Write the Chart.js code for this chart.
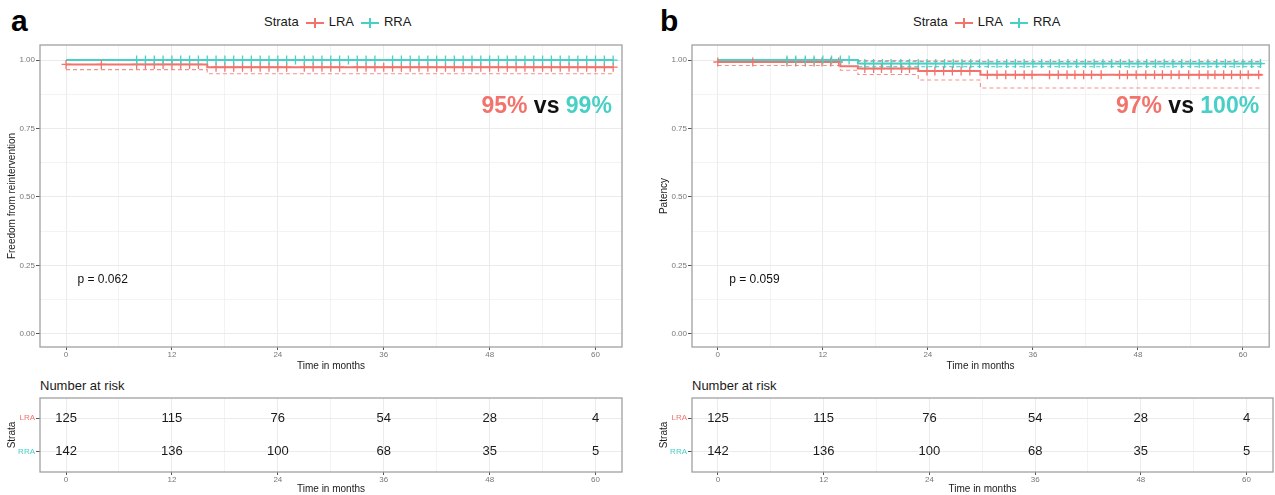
<!DOCTYPE html>
<html>
<head>
<meta charset="utf-8">
<script src="https://cdn.jsdelivr.net/npm/chart.js@4.4.0/dist/chart.umd.min.js"></script>
<style>
  body { margin: 0; background: #fff; font-family: "Liberation Sans", Arial, sans-serif; }
  #wrap { position: relative; width: 1275px; height: 495px; overflow: hidden; }
  .box { position: absolute; }
  .tag { position: absolute; font-weight: bold; font-size: 30px; line-height: 30px; color: #000; }
  .legend { position: absolute; font-size: 13px; line-height: 16px; color: #1a1a1a; white-space: nowrap; }
  .sym { display: inline-block; width: 18px; height: 2px; position: relative; vertical-align: middle; margin: 0 5px 0 7px; }
  .sym::after { content: ''; position: absolute; left: 8px; top: -4px; width: 2px; height: 10px; background: inherit; }
  .risk-title { position: absolute; font-size: 13px; line-height: 16px; color: #1a1a1a; }
</style>
</head>
<body>
<div id="wrap">
  <div class="tag" style="left:11px;top:6px">a</div>
  <div class="tag" style="left:660px;top:6px">b</div>
  <div class="legend" style="left:264px;top:14px">Strata<span class="sym lra"></span>LRA<span class="sym rra"></span>RRA</div>
  <div class="legend" style="left:913px;top:14px">Strata<span class="sym lra"></span>LRA<span class="sym rra"></span>RRA</div>
  <div class="risk-title" style="left:40px;top:378px">Number at risk</div>
  <div class="risk-title" style="left:692px;top:378px">Number at risk</div>

  <div class="box" style="left:0;top:0"><canvas id="kmA" width="640" height="372"></canvas></div>
  <div class="box" style="left:0;top:372px"><canvas id="riskA" width="640" height="123"></canvas></div>
  <div class="box" style="left:652px;top:0"><canvas id="kmB" width="623" height="372"></canvas></div>
  <div class="box" style="left:652px;top:372px"><canvas id="riskB" width="623" height="123"></canvas></div>
</div>

<script>
// axis ticks
const monthTicks = [0, 12, 24, 36, 48, 60]
const monthMinor = [6, 18, 30, 42, 54]
const survTicks = [0, 0.25, 0.5, 0.75, 1]
const survMinor = [0.125, 0.375, 0.625, 0.875]
const strata = ['LRA', 'RRA']

const red = '#f2736b'
const teal = '#48cfc6'

// panel a - freedom from reintervention
const aLraTime = [0, 16, 62]
const aLraSurv = [0.984, 0.974, 0.974]
const aLraLow = [0.965, 0.950, 0.950]
const aLraUp = [1, 1, 1]
const aRraTime = [0, 62]
const aRraSurv = [1, 1]
const aLraCens = [0, 4, 8, 9, 10, 11, 12, 13, 14, 15, 17, 18, 19, 20, 21, 22, 23, 24, 25, 27, 28, 29, 30, 31,
  33, 34, 35, 36, 37, 38, 39, 40, 41, 42, 43, 44, 45, 46, 47, 48, 49, 50, 51, 52, 53, 54, 55, 56, 57, 58, 59, 60, 61, 62]
const aRraCens = [8, 9, 10, 11, 12, 13, 14, 15, 16, 17, 18, 19, 20, 21, 22, 23, 24, 25, 26, 27, 28, 29, 30, 31, 32,
  33, 34, 35, 37, 38, 39, 40, 41, 42, 43, 44, 45, 46, 47, 48, 49, 50, 51, 52, 53, 54, 55, 56, 57, 58, 59, 60, 61, 62]
const aRiskLRA = [125, 115, 76, 54, 28, 4]
const aRiskRRA = [142, 136, 100, 68, 35, 5]

// panel b - patency
const bLraTime = [0, 14, 16, 22.9, 30, 62.2]
const bLraSurv = [0.993, 0.977, 0.969, 0.960, 0.946, 0.946]
const bLraLow = [0.980, 0.963, 0.947, 0.927, 0.898, 0.898]
const bLraUp = [1, 1, 0.998, 0.996, 0.994, 0.994]
const bRraTime = [0, 16, 62.2]
const bRraSurv = [1, 0.987, 0.987]
const bRraLow = [1, 0.976, 0.976]
const bRraUp = [1, 0.995, 0.995]
const bLraCens = [0, 4, 7.9, 8.9, 10, 11, 11.9, 12.9, 13.8, 16.8, 17.8, 18.7, 19.8, 21, 21.9, 23.9, 24.8, 25.8,
  26.8, 27.8, 28.8, 30.8, 31.9, 32.9, 34, 35, 35.9, 37.9, 38.9, 39.9, 40.8, 41.8, 42.7, 43.8, 45.9, 46.8, 47.8,
  48.9, 49.9, 50.8, 51.8, 52.7, 53.8, 55, 56, 56.8, 57.8, 58.7, 59.7, 60.6, 61.8]
const bRraCens = [7.9, 8.9, 10, 11, 12, 13, 14, 15, 16.8, 17.8, 18.8, 19.8, 20.9, 21.9, 22.9, 23.9, 24.9, 25.9,
  26.9, 27.9, 28.9, 29.9, 30.9, 31.9, 33, 34, 35, 36, 37, 38, 39, 40, 41, 42, 43, 44, 45, 46, 47, 48, 49, 50,
  51, 52, 53, 54, 55, 56, 57, 58, 59, 60, 61, 62]
const bRiskLRA = [125, 115, 76, 54, 28, 4]
const bRiskRRA = [142, 136, 100, 68, 35, 5]
const riskTimes = [0, 12, 24, 36, 48, 60]

Chart.defaults.font.family = '"Liberation Sans", Arial, sans-serif'
Chart.defaults.color = '#1a1a1a'

document.querySelectorAll('.sym.lra').forEach(s => s.style.background = red)
document.querySelectorAll('.sym.rra').forEach(s => s.style.background = teal)

function steps(times, vals) {
  return times.map((t, i) => ({x: t, y: vals[i]}))
}

function survAt(times, vals, t) {
  let v = vals[0]
  for (let i = 0; i < times.length; i++) {
    if (times[i] <= t) v = vals[i]
  }
  return v
}

function marks(cens, times, vals) {
  return cens.map(t => ({x: t, y: survAt(times, vals, t)}))
}

const isIn = (arr, v) => arr.some(m => Math.abs(m - v) < 1e-9)

function monthAxis(height) {
  return {
    type: 'linear',
    min: -2.95,
    max: 63,
    afterBuildTicks: ax => { ax.ticks = monthTicks.concat(monthMinor).sort((p, q) => p - q).map(v => ({value: v})) },
    afterFit: ax => { ax.height = height },
    ticks: {
      autoSkip: false, maxRotation: 0, padding: 0, color: '#777', font: {size: 8},
      callback: v => isIn(monthTicks, v) ? String(v) : ''
    },
    grid: {
      color: '#ebebeb',
      lineWidth: c => isIn(monthTicks, c.tick.value) ? 1 : 0.6,
      tickLength: 3,
      tickColor: c => isIn(monthTicks, c.tick.value) ? '#555' : 'rgba(0,0,0,0)'
    },
    border: {display: false},
    title: {display: true, text: 'Time in months', font: {size: 10}, padding: 0}
  }
}

const framePlugin = {
  id: 'frame',
  afterDatasetsDraw(chart) {
    const a = chart.chartArea
    const ctx = chart.ctx
    ctx.save()
    ctx.strokeStyle = '#a0a0a0'
    ctx.lineWidth = 1.3
    ctx.strokeRect(a.left, a.top, a.right - a.left, a.bottom - a.top)
    ctx.restore()
  }
}

function notesPlugin(pText, parts) {
  return {
    id: 'notes',
    afterDatasetsDraw(chart) {
      const ctx = chart.ctx
      const xs = chart.scales.x, ys = chart.scales.y
      ctx.save()
      ctx.textBaseline = 'middle'
      ctx.font = '12px "Liberation Sans", Arial, sans-serif'
      ctx.fillStyle = '#111'
      ctx.textAlign = 'left'
      ctx.fillText(pText, xs.getPixelForValue(1.3), ys.getPixelForValue(0.197))

      // big percentages, right aligned
      ctx.font = 'bold 23px "Liberation Sans", Arial, sans-serif'
      let total = parts.reduce((s, p) => s + ctx.measureText(p[0]).width, 0)
      let x = xs.getPixelForValue(61.85) - total
      const y = ys.getPixelForValue(0.828)
      parts.forEach(p => {
        ctx.fillStyle = p[1]
        ctx.fillText(p[0], x, y)
        x += ctx.measureText(p[0]).width
      })
      ctx.restore()
    }
  }
}

function make_km(canvas, d, yTitle, padRight, pText, parts) {
  const line = (data, color, order) => ({
    data: data, borderColor: color, borderWidth: 2, stepped: true, pointRadius: 0, fill: false, order: order
  })
  const ci = (data, color) => ({
    data: data, borderColor: color, borderWidth: 1.1, borderDash: [4, 3], stepped: true, pointRadius: 0, fill: false, order: 5
  })
  const cens = (data, color) => ({
    data: data, showLine: false, pointStyle: 'cross', pointRadius: 4.5, pointBorderWidth: 1.3,
    pointBorderColor: color, pointBackgroundColor: color, order: 0
  })

  const datasets = [
    cens(marks(d.rraCens, d.rraTime, d.rraSurv), teal),
    cens(marks(d.lraCens, d.lraTime, d.lraSurv), red),
    line(steps(d.rraTime, d.rraSurv), teal, 1),
    line(steps(d.lraTime, d.lraSurv), red, 2),
    ci(steps(d.lraTime, d.lraLow), 'rgba(242,115,107,0.8)'),
    ci(steps(d.lraTime, d.lraUp), 'rgba(242,115,107,0.8)')
  ]
  if (d.rraLow) {
    datasets.push(ci(steps(d.rraTime, d.rraLow), 'rgba(72,207,198,0.85)'))
    datasets.push(ci(steps(d.rraTime, d.rraUp), 'rgba(72,207,198,0.85)'))
  }

  new Chart(canvas.getContext('2d'), {
    type: 'line',
    data: {datasets: datasets},
    options: {
      responsive: false,
      animation: false,
      layout: {padding: {top: 45, right: padRight, left: 0, bottom: 0}},
      plugins: {legend: {display: false}, tooltip: {enabled: false}},
      scales: {
        x: monthAxis(25),
        y: {
          type: 'linear',
          min: -0.048,
          max: 1.055,
          afterBuildTicks: ax => { ax.ticks = survTicks.concat(survMinor).sort((p, q) => p - q).map(v => ({value: v})) },
          afterFit: ax => { ax.width = 40 },
          ticks: {
            autoSkip: false, padding: 1, color: '#777', font: {size: 8},
            callback: v => isIn(survTicks, v) ? v.toFixed(2) : ''
          },
          grid: {
            color: '#ebebeb',
            lineWidth: c => isIn(survTicks, c.tick.value) ? 1 : 0.6,
            tickLength: 4,
            tickColor: c => isIn(survTicks, c.tick.value) ? '#555' : 'rgba(0,0,0,0)'
          },
          border: {display: false},
          title: {display: true, text: yTitle, font: {size: 10}, padding: 6}
        }
      }
    },
    plugins: [framePlugin, notesPlugin(pText, parts)]
  })
}

const riskTextPlugin = {
  id: 'riskText',
  afterDatasetsDraw(chart) {
    const ctx = chart.ctx
    ctx.save()
    ctx.font = '13px "Liberation Sans", Arial, sans-serif'
    ctx.fillStyle = '#1a1a1a'
    ctx.textAlign = 'center'
    ctx.textBaseline = 'middle'
    chart.data.datasets.forEach((ds, i) => {
      chart.getDatasetMeta(i).data.forEach((pt, j) => {
        ctx.fillText(String(ds.counts[j]), pt.x, pt.y)
      })
    })
    ctx.restore()
  }
}

function make_risk(canvas, lra, rra, padRight) {
  new Chart(canvas.getContext('2d'), {
    type: 'scatter',
    data: {
      datasets: [
        {data: riskTimes.map(t => ({x: t, y: 1})), counts: lra, pointRadius: 0},
        {data: riskTimes.map(t => ({x: t, y: 2})), counts: rra, pointRadius: 0}
      ]
    },
    options: {
      responsive: false,
      animation: false,
      layout: {padding: {top: 26, right: padRight, left: 0, bottom: 0}},
      plugins: {legend: {display: false}, tooltip: {enabled: false}},
      scales: {
        x: monthAxis(23),
        y: {
          type: 'linear',
          reverse: true,
          min: 0.4,
          max: 2.6,
          afterBuildTicks: ax => { ax.ticks = [{value: 1}, {value: 2}] },
          afterFit: ax => { ax.width = 40 },
          ticks: {
            padding: 1, font: {size: 8},
            color: c => c.tick && c.tick.value === 1 ? red : teal,
            callback: v => strata[v - 1]
          },
          grid: {color: '#ebebeb', tickLength: 4, tickColor: '#555'},
          border: {display: false},
          title: {display: true, text: 'Strata', font: {size: 10}, padding: 6}
        }
      }
    },
    plugins: [framePlugin, riskTextPlugin]
  })
}

make_km(document.getElementById('kmA'), {
  lraTime: aLraTime, lraSurv: aLraSurv, lraLow: aLraLow, lraUp: aLraUp, lraCens: aLraCens,
  rraTime: aRraTime, rraSurv: aRraSurv, rraCens: aRraCens
}, 'Freedom from reintervention', 18, 'p = 0.062', [['95%', red], [' vs ', '#111'], ['99%', teal]])

make_km(document.getElementById('kmB'), {
  lraTime: bLraTime, lraSurv: bLraSurv, lraLow: bLraLow, lraUp: bLraUp, lraCens: bLraCens,
  rraTime: bRraTime, rraSurv: bRraSurv, rraLow: bRraLow, rraUp: bRraUp, rraCens: bRraCens
}, 'Patency', 2, 'p = 0.059', [['97%', red], [' vs ', '#111'], ['100%', teal]])

make_risk(document.getElementById('riskA'), aRiskLRA, aRiskRRA, 18)
make_risk(document.getElementById('riskB'), bRiskLRA, bRiskRRA, 2)
</script>
</body>
</html>
